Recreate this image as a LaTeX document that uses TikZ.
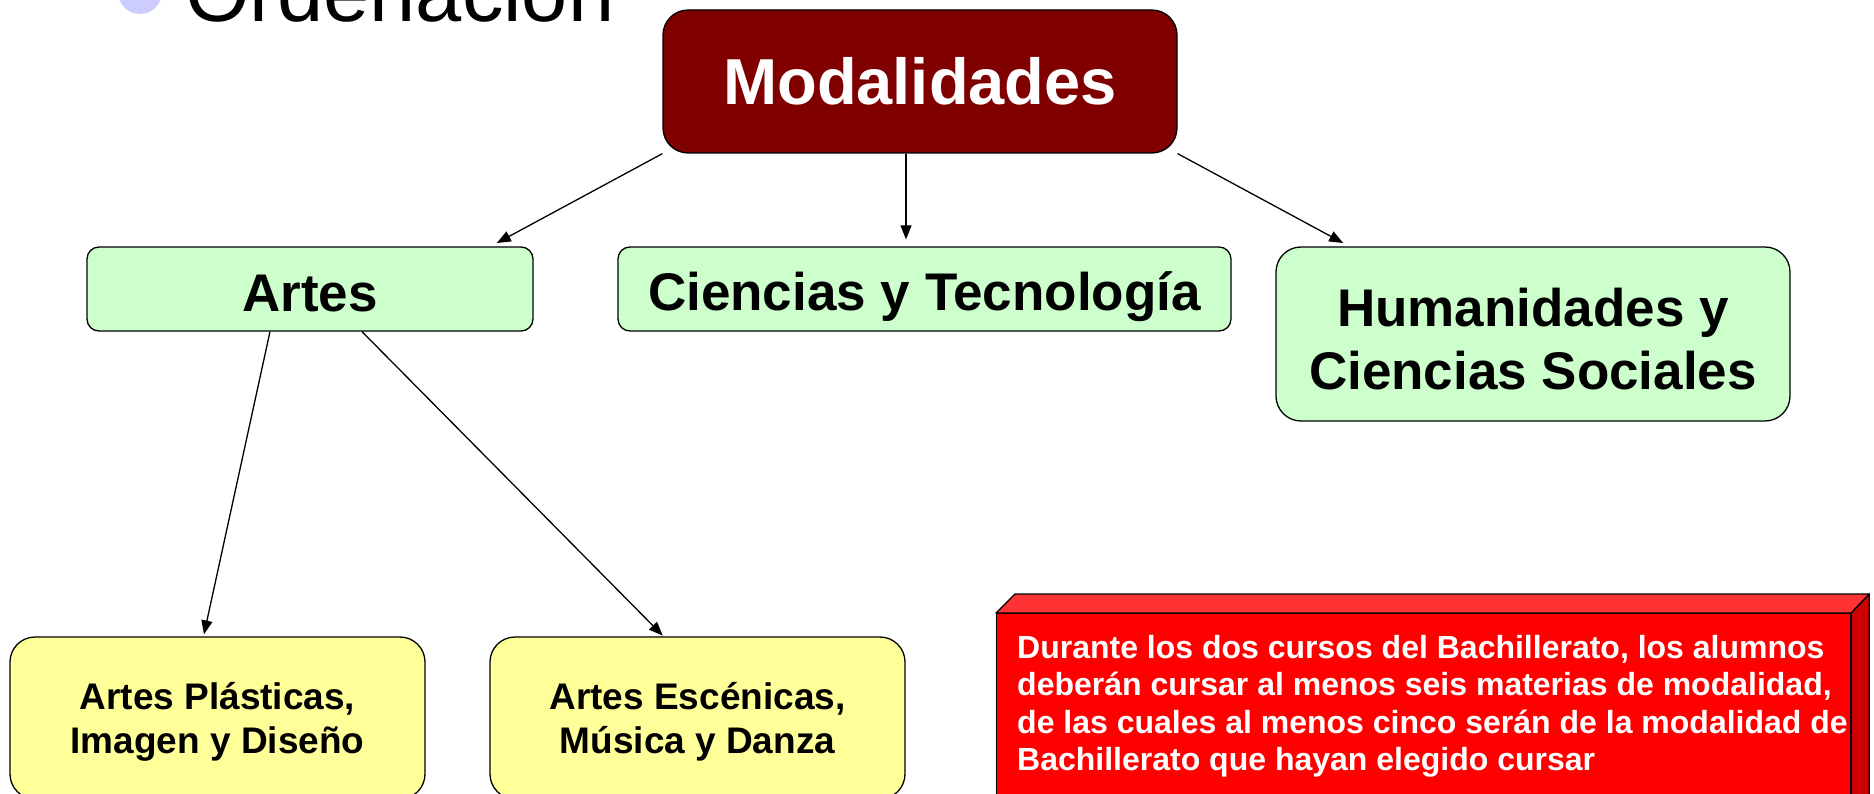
\documentclass[tikz,border=0pt]{standalone}
\usepackage{fontspec}
\setmainfont{Liberation Sans}
\usetikzlibrary{arrows.meta,calc}
\definecolor{modred}{HTML}{800000}
\definecolor{mintgreen}{HTML}{CCFFCC}
\definecolor{paleyellow}{HTML}{FFFF99}
\definecolor{frontred}{HTML}{FF0000}
\definecolor{topred}{HTML}{FF3333}
\definecolor{sidered}{HTML}{CC0000}
\definecolor{bulletblue}{HTML}{CCCCFF}
\begin{document}
\begin{tikzpicture}[x=1pt,y=-1pt,
  outline/.style={draw=black, line width=1.3pt},
  modbox/.style={outline, fill=modred, rounded corners=25pt, inner sep=0pt, align=center, text=white,
    font=\bfseries\fontsize{65}{72}\selectfont},
  greenbox/.style={outline, fill=mintgreen, rounded corners=12pt, inner sep=0pt},
  greenbig/.style={greenbox, rounded corners=25pt},
  gtext/.style={inner sep=0pt, align=center, yshift=-5pt, font=\bfseries\fontsize{53}{63}\selectfont},
  htext/.style={gtext, yshift=0pt},
  yellowbox/.style={outline, fill=paleyellow, rounded corners=25pt, inner sep=0pt},
  ytext/.style={inner sep=0pt, align=center, yshift=-4pt, font=\bfseries\fontsize{37}{44}\selectfont},
  arr/.style={line width=1.3pt, -{Triangle[length=14pt,width=11pt]}},
]
\useasboundingbox (0,0) rectangle (1874,794);
\clip (0,0) rectangle (1874,794);

% title fragment
\fill[bulletblue] (140,-8) circle (22pt);
\node[anchor=base west, inner sep=0pt, font=\fontsize{83}{90}\selectfont] (ord) at (185,22) {Ordenación};

% nodes
\node[modbox, minimum width=514pt, minimum height=143pt] (mod) at (920,81.5) {Modalidades};
\node[greenbox, minimum width=446pt, minimum height=84pt, label={[gtext]center:Artes}] (artes) at (310,289) {};
\node[greenbox, minimum width=613pt, minimum height=84pt, label={[gtext, yshift=-3pt]center:{Ciencias y Tecnología}}] (cyt) at (924.5,289) {};
\node[greenbig, minimum width=514pt, minimum height=174pt, label={[htext]center:{Humanidades y\\Ciencias Sociales}}] (hum) at (1533,334) {};
\node[yellowbox, minimum width=415pt, minimum height=162pt, label={[ytext]center:{Artes Plásticas,\\Imagen y Diseño}}] (plast) at (217.5,718) {};
\node[yellowbox, minimum width=415pt, minimum height=162pt, label={[ytext]center:{Artes Escénicas,\\Música y Danza}}] (esc) at (697.5,718) {};

% 3D red note box
\node[outline, fill=frontred, anchor=north west, minimum width=854pt, minimum height=220pt, inner sep=0pt] (nota) at (996,613) {};
\draw[outline, fill=topred, line join=round] (nota.north west) -- ++(19,-19) -- ([shift={(18,-19)}]nota.north east) -- (nota.north east) -- cycle;
\draw[outline, fill=sidered, line join=round] (nota.north east) -- ++(18,-19) -- ++(0,260) -- (nota.south east) -- cycle;
\node[anchor=north west, inner sep=0pt, align=left, text=white, font=\bfseries\fontsize{32}{37.5}\selectfont] (notatxt) at (1017,635)
  {Durante los dos cursos del Bachillerato, los alumnos\\deberán cursar al menos seis materias de modalidad,\\de las cuales al menos cinco serán de la modalidad de\\Bachillerato que hayan elegido cursar};

% connectors
\draw[arr, shorten >=7pt] (mod.south west) -- ([xshift=-43pt]artes.north east);
\draw[arr, shorten >=7pt] ([xshift=-14pt]mod.south) -- ([xshift=-14pt]mod.south |- cyt.north);
\draw[arr, shorten >=7pt] (mod.south east) -- ([xshift=74pt]hum.north west);
\draw[arr, shorten >=2pt] ([xshift=-40pt]artes.south) -- ([xshift=-14pt]plast.north);
\draw[arr, shorten >=1pt] ([xshift=52pt]artes.south) -- ([xshift=-34pt]esc.north);
\end{tikzpicture}
\end{document}
